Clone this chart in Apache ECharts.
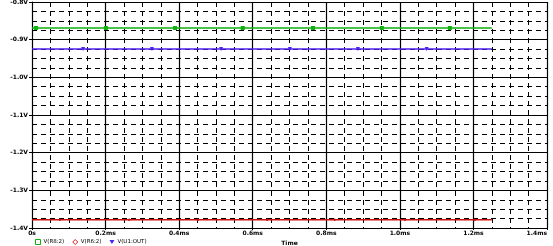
<!DOCTYPE html>
<html><head><meta charset="utf-8">
<script src="https://cdn.jsdelivr.net/npm/echarts@6/dist/echarts.min.js"></script>
<style>html,body{margin:0;padding:0;background:#fff}#c{width:553px;height:246px}</style>
</head><body><div id="c"></div>
<script>
// time in ms
const seriesNames = ['V(R8:2)', 'V(R6:2)', 'V(U1:OUT)'];
const endTime = [0, 1.25];
const greenLevel = -0.869;
const blueLevel = -0.925;
const redLevel = -1.378;
const greenMarkers = [0.011, 0.201, 0.389, 0.573, 0.764, 0.951, 1.136];
const redMarkers = [0.076, 0.264, 0.451, 0.639, 0.823, 1.014, 1.204];
const blueMarkers = [0.139, 0.326, 0.514, 0.701, 0.886, 1.073];
const xTicks = ['0s','0.2ms','0.4ms','0.6ms','0.8ms','1.0ms','1.2ms','1.4ms'];
const yTicks = ['-1.4V','-1.3V','-1.2V','-1.1V','-1.0V','-0.9V','-0.8V'];

function build(level, markers) {
  const pts = [{value:[endTime[0], level], symbol:'none'}];
  markers.forEach(t => pts.push([t, level]));
  pts.push({value:[endTime[1], level], symbol:'none'});
  return pts;
}
const font = {fontSize: 6, color: '#000', fontFamily: 'DejaVu Sans', fontWeight: 'bold'};
const chart = echarts.init(document.getElementById('c'));
chart.setOption({
  animation: false,
  grid: {left: 32, right: 6, top: 2, bottom: 18, containLabel: false, outerBoundsMode: 'none'},
  legend: {
    left: 30, top: 234, itemWidth: 5, itemHeight: 5, itemGap: 8,
    textStyle: {fontSize: 5.5, color: '#000', fontFamily: 'DejaVu Sans', padding: [0,0,0,-2]},
    data: [
      {name: seriesNames[0], icon: 'rect', itemStyle:{color:'#fff', borderColor:'#10b010', borderWidth:1}},
      {name: seriesNames[1], icon: 'diamond', itemStyle:{color:'#fff', borderColor:'#d02020', borderWidth:1}},
      {name: seriesNames[2], icon: 'path://M0,0 L10,0 L5,8 Z', itemStyle:{color:'#5020f0'}}
    ]
  },
  xAxis: {
    type: 'value', min: 0, max: 1.4, interval: 0.2,
    name: 'Time', nameLocation: 'middle', nameGap: 10,
    nameTextStyle: font,
    axisLine: {lineStyle: {color: '#000', width: 1}},
    axisTick: {show: true, length: 2, lineStyle:{color:'#000'}},
    axisLabel: Object.assign({margin: 2, alignMaxLabel: 'right', formatter: (v) => xTicks[Math.round(v/0.2)]}, font),
    splitLine: {show: true, lineStyle: {color: '#000', width: 1.2}},
    minorTick: {show: false, splitNumber: 4},
    minorSplitLine: {show: true, lineStyle: {color: '#000', width: 1, type: [5, 4]}}
  },
  yAxis: {
    type: 'value', min: -1.4, max: -0.8, interval: 0.1,
    axisLine: {show: true, lineStyle: {color: '#000', width: 1}},
    axisTick: {show: true, length: 3, lineStyle:{color:'#000'}},
    axisLabel: Object.assign({margin: 4, formatter: (v) => yTicks[Math.round((v+1.4)/0.1)]}, font),
    splitLine: {show: true, lineStyle: {color: '#000', width: 1.2}},
    minorTick: {show: false, splitNumber: 4},
    minorSplitLine: {show: true, lineStyle: {color: '#000', width: 1, type: [5, 4]}}
  },
  series: [
    {name: seriesNames[0], type: 'line', data: build(greenLevel, greenMarkers), symbol: 'rect', symbolSize: 4,
     lineStyle: {color: '#10b010', width: 1.5}, itemStyle: {color: '#10b010'}},
    {name: seriesNames[1], type: 'line', data: build(redLevel, redMarkers), symbol: 'diamond', symbolSize: 3,
     lineStyle: {color: '#c81010', width: 1.5}, itemStyle: {color: '#c81010'}},
    {name: seriesNames[2], type: 'line', data: build(blueLevel, blueMarkers), symbol: 'triangle', symbolRotate: 180, symbolSize: 4,
     lineStyle: {color: '#5020f0', width: 1.5}, itemStyle: {color: '#5020f0'}}
  ]
});
</script></body></html>
